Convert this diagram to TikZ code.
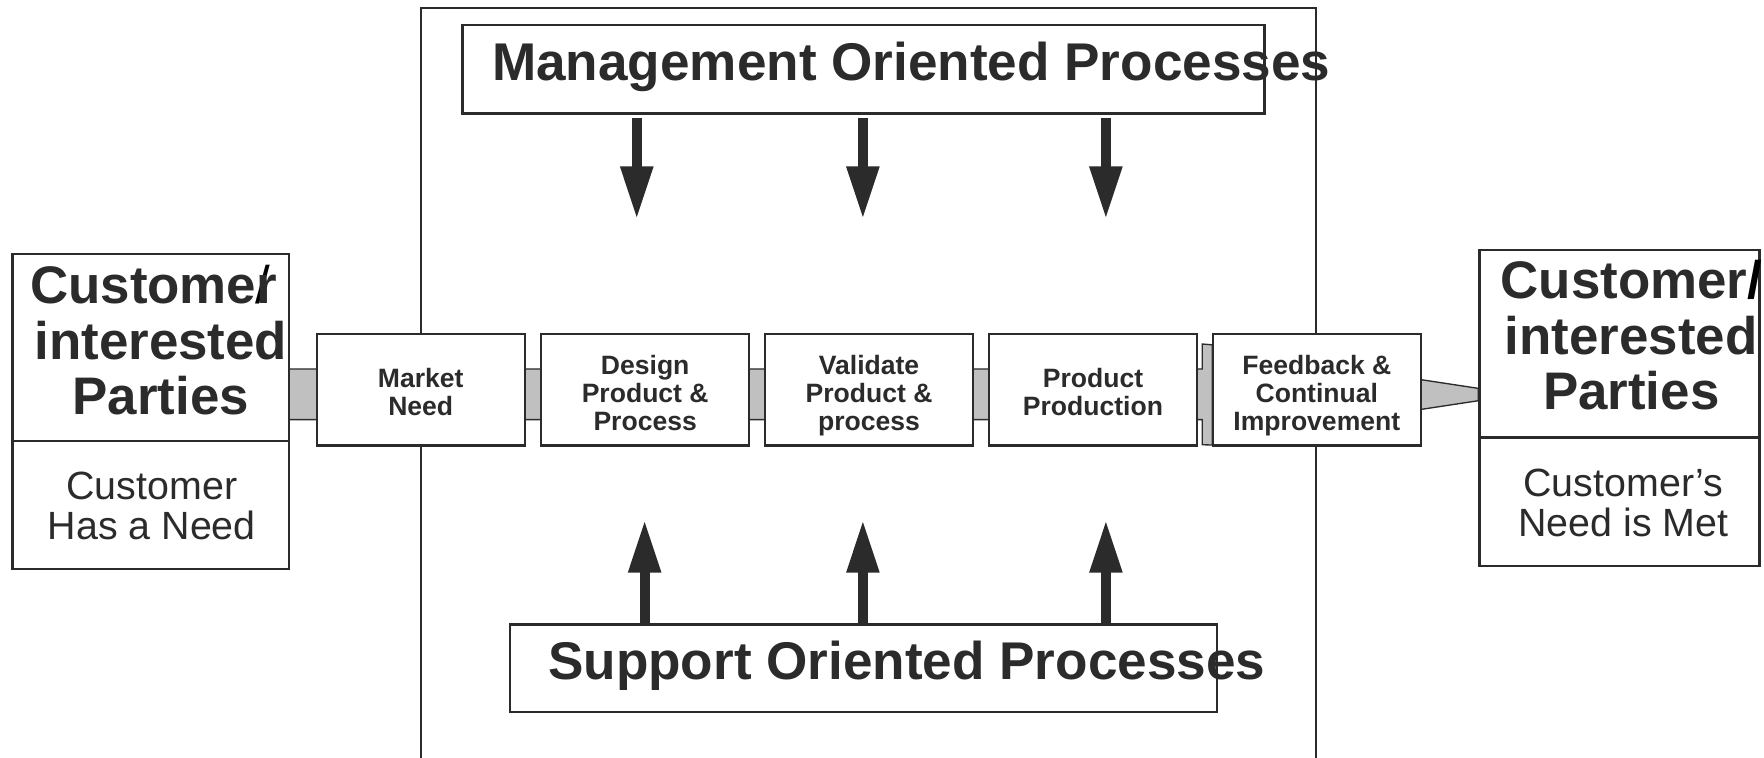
\documentclass[tikz,border=0pt]{standalone}
\usepackage{fontspec}
\setmainfont{Liberation Sans}
\usetikzlibrary{arrows.meta}
\definecolor{ink}{HTML}{2B2B2B}
\definecolor{bandgray}{HTML}{C0C0C0}
\begin{document}
\begin{tikzpicture}[x=0.5pt,y=-0.5pt,
  boxline/.style={draw=ink, line width=1pt, fill=white, inner sep=0pt},
  procbox/.style={boxline, minimum width=92.5pt, minimum height=49.5pt},
  proctext/.style={font=\fontsize{11.8}{12.5}\selectfont\bfseries, text=ink,
    align=center, inner sep=0pt, text depth=0pt},
  bigtitle/.style={font=\fontsize{23.6}{24}\selectfont\bfseries, text=ink,
    inner sep=0pt, anchor=base},
  partytitle/.style={font=\fontsize{23.5}{24.75}\selectfont\bfseries, text=ink,
    inner sep=0pt, align=center},
  partynote/.style={font=\fontsize{17.5}{17.75}\selectfont, text=ink,
    inner sep=0pt, align=center},
  feedarrow/.style={draw=ink, line width=4.5pt,
    -{Triangle[length=23.5pt 0, width=13.5pt 0, fill=ink]}},
  bandfill/.style={fill=bandgray, draw=ink, line width=0.6pt, line join=miter}
]
\clip (0,0) rectangle (1568,673);
\fill[white] (0,0) rectangle (1568,673);

% outer frame around the value stream, open at the bottom
\draw[ink, line width=0.8pt] (374,760) -- (374,7) -- (1170,7) -- (1170,760);

% grey flow band behind the process boxes, with its flange
\draw[bandfill] (250,328) -- (1068.7,328) -- (1068.7,305.8) -- (1077.5,306.5)
  -- (1077.5,395.6) -- (1068.7,395.3) -- (1068.7,373) -- (250,373) -- cycle;
% tapered outlet toward the satisfied customer
\draw[bandfill] (1260,337) -- (1314,345.2) -- (1314,356.2) -- (1260,364.4) -- cycle;

% customer boxes
\node[boxline, anchor=north west, minimum width=123pt, minimum height=83pt]
  (lefthead) at (10,225) {};
\node[boxline, anchor=north west, minimum width=123pt, minimum height=57pt]
  (leftfoot) at (10,391) {};
\node[boxline, anchor=north west, minimum width=124.5pt, minimum height=83.5pt]
  (righthead) at (1314,221) {};
\node[boxline, anchor=north west, minimum width=124.5pt, minimum height=57pt]
  (rightfoot) at (1314,388) {};

\node[partytitle] (leftname) at (143,302.5)
  {Custome\rlap{\mdseries\color{black}\kern-0.5pt/}r\phantom{/}\\interested\\Parties};
\node[partynote] (leftnote) at (135,449.5) {Customer\\Has a Need};
\node[partytitle] (rightname) at (1450,298)
  {Customer{\color{black}/}\\interested\\Parties};
\node[partynote] (rightnote) at (1443,447) {Customer’s\\Need is Met};

% process chain
\node[procbox] (market)     at (374,346.5)   {};
\node[procbox] (design)     at (573.5,346.5) {};
\node[procbox] (validate)   at (772.5,346.5) {};
\node[procbox] (production) at (971.5,346.5) {};
\node[procbox] (feedback)   at (1170.5,346.5) {};
\node[proctext] (markettext)     at ([yshift=-1pt]market.center)     {Market\\Need};
\node[proctext] (designtext)     at ([yshift=-1.5pt]design.center)   {Design\\Product \&\\Process};
\node[proctext] (validatetext)   at ([yshift=-1.5pt]validate.center) {Validate\\Product \&\\process};
\node[proctext] (productiontext) at ([yshift=-1pt]production.center) {Product\\Production};
\node[proctext] (feedbacktext)   at ([yshift=-1.5pt]feedback.center) {Feedback \&\\Continual\\Improvement};

% management and support process bars
\node[boxline, minimum width=356.5pt, minimum height=39.5pt] (mgmt) at (767.5,61.5) {};
\node[bigtitle] (mgmttext) at (810,72) {Management Oriented Processes};
\node[boxline, minimum width=314.5pt, minimum height=39pt] (support) at (767.5,594) {};
\node[bigtitle] (supporttext) at (806,604.4) {Support Oriented Processes};

% arrows from the management bar
\coordinate (down1) at (566,195);
\coordinate (down2) at (767,195);
\coordinate (down3) at (983,195);
\foreach \c in {down1,down2,down3}
  \draw[feedarrow] ([yshift=-1.5pt]mgmt.south -| \c) -- (\c);

% arrows from the support bar
\coordinate (up1) at (573,462);
\coordinate (up2) at (767,462);
\coordinate (up3) at (983,462);
\foreach \c in {up1,up2,up3}
  \draw[feedarrow] (support.north -| \c) -- (\c);
\end{tikzpicture}
\end{document}
